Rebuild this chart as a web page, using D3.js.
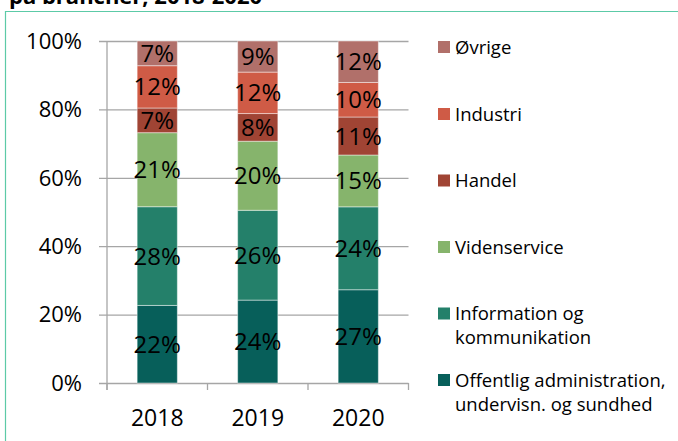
<!DOCTYPE html>
<html>
<head>
<meta charset="utf-8">
<script src="https://cdn.jsdelivr.net/npm/d3@7"></script>
<style>
  body { margin: 0; background: #fff; }
  svg text { font-family: "Open Sans", sans-serif; fill: #000; }
</style>
</head>
<body>
<svg id="chart" width="678" height="441"></svg>
<script>
// Beskæftigelse fordelt på brancher, andele pr. år
const years = ['2018', '2019', '2020'];
const branches = ['Offentlig', 'Information', 'Videnservice', 'Handel', 'Industri', 'Øvrige'];
const offentlig = [22, 24, 27];
const information = [28, 26, 24];
const videnservice = [21, 20, 15];
const handel = [7, 8, 11];
const industri = [12, 12, 10];
const ovrige = [7, 9, 12];
const yTicks = [0, 0.2, 0.4, 0.6, 0.8, 1];

const legendLabels = [
  ['Øvrige'],
  ['Industri'],
  ['Handel'],
  ['Videnservice'],
  ['Information og', 'kommunikation'],
  ['Offentlig administration,', 'undervisn. og sundhed']
];
const legendKeys = ['Øvrige', 'Industri', 'Handel', 'Videnservice', 'Information', 'Offentlig'];

const colors = {
  'Offentlig': '#075f5a',
  'Information': '#24806a',
  'Videnservice': '#86b46c',
  'Handel': '#a04434',
  'Industri': '#cf5b46',
  'Øvrige': '#b1706a'
};

const svg = d3.select('#chart');

// tabel til stack
const rows = years.map((y, i) => ({
  year: y,
  'Offentlig': offentlig[i],
  'Information': information[i],
  'Videnservice': videnservice[i],
  'Handel': handel[i],
  'Industri': industri[i],
  'Øvrige': ovrige[i]
}));

const series = d3.stack().keys(branches).offset(d3.stackOffsetExpand)(rows);

const x = d3.scaleBand().domain(years).range([107, 408.5]).paddingInner(0.6).paddingOuter(0.3);
const y = d3.scaleLinear().domain([0, 1]).range([383, 41]);

// rammen
svg.append('path')
  .attr('d', 'M5.5,445 V11.5 H690')
  .attr('fill', 'none')
  .attr('stroke', '#5ccaa7')
  .attr('stroke-width', 1.2);

// titel (beskåret i originalen)
svg.append('text')
  .attr('x', 9)
  .attr('y', 4)
  .style('font-size', '22px')
  .style('font-weight', 'bold')
  .text('på brancher, 2018-2020');

// gitterlinjer og y-akse
svg.append('g')
  .attr('transform', 'translate(107,0)')
  .call(d3.axisLeft(y).tickValues(yTicks).tickSize(8).tickSizeInner(-301.5).tickFormat(''))
  .call(g => g.select('.domain').remove())
  .call(g => g.selectAll('.tick line').attr('stroke', '#a6a6a6').attr('stroke-width', 1.3)
    .attr('x1', -8));

svg.append('line')
  .attr('x1', 107).attr('x2', 107)
  .attr('y1', y(1)).attr('y2', 390)
  .attr('stroke', '#a6a6a6').attr('stroke-width', 1.3);

svg.append('g')
  .selectAll('text')
  .data(yTicks)
  .join('text')
  .attr('x', 82)
  .attr('y', d => y(d) + 7.8)
  .attr('text-anchor', 'end')
  .style('font-size', '22px')
  .text(d3.format('.0%'));

// x-akse kategoriticks
const catEdges = [0, 1, 2, 3].map(i => 107 + i * (301.5 / 3));
svg.append('g')
  .selectAll('line')
  .data(catEdges)
  .join('line')
  .attr('x1', d => d).attr('x2', d => d)
  .attr('y1', y(0)).attr('y2', 390)
  .attr('stroke', '#a6a6a6').attr('stroke-width', 1.3);

svg.append('g')
  .selectAll('text')
  .data(years)
  .join('text')
  .attr('x', d => x(d) + x.bandwidth() / 2)
  .attr('y', 426)
  .attr('text-anchor', 'middle')
  .style('font-size', '23px')
  .text(d => d);

// søjler
const layer = svg.append('g')
  .selectAll('g')
  .data(series)
  .join('g')
  .attr('fill', d => colors[d.key]);

layer.selectAll('rect')
  .data(d => d)
  .join('rect')
  .attr('x', d => x(d.data.year))
  .attr('width', x.bandwidth())
  .attr('y', d => y(d[1]))
  .attr('height', d => y(d[0]) - y(d[1]))
  .attr('stroke', 'rgba(255,255,255,0.45)')
  .attr('stroke-width', 1);

// dataetiketter
layer.selectAll('text')
  .data(d => d.map(v => ({ v, key: d.key })))
  .join('text')
  .attr('x', d => x(d.v.data.year) + x.bandwidth() / 2)
  .attr('y', d => y((d.v[0] + d.v[1]) / 2) + 8.5)
  .attr('text-anchor', 'middle')
  .style('font-size', '24px')
  .text(d => d.v.data[d.key] + '%');

// legende
const legendY = [47, 114, 180.5, 247, 313.5, 380];
const legend = svg.append('g')
  .selectAll('g')
  .data(legendKeys)
  .join('g')
  .attr('transform', (d, i) => `translate(438,${legendY[i]})`);

legend.append('rect')
  .attr('x', 0).attr('y', -6)
  .attr('width', 12).attr('height', 12)
  .attr('fill', d => colors[d]);

legend.append('text')
  .attr('x', 17)
  .attr('y', 6.5)
  .style('font-size', '18.5px')
  .selectAll('tspan')
  .data((d, i) => legendLabels[i])
  .join('tspan')
  .attr('x', 17)
  .attr('dy', (d, j) => j === 0 ? 0 : 24)
  .text(d => d);
</script>
</body>
</html>
